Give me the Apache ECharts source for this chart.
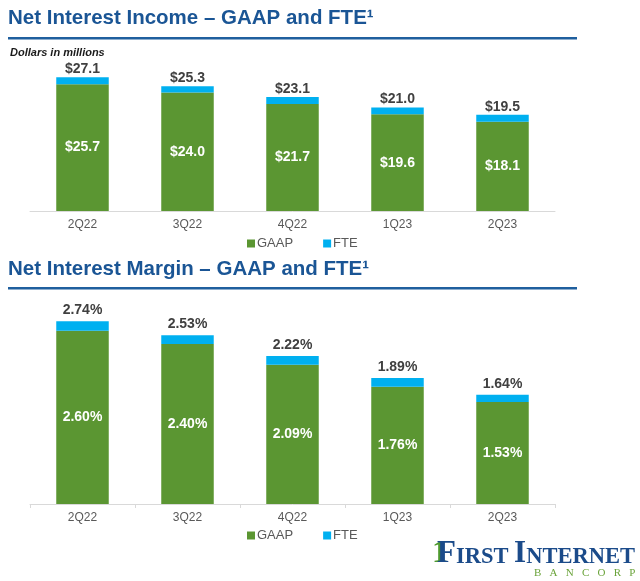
<!DOCTYPE html>
<html>
<head>
<meta charset="utf-8">
<script src="https://cdn.jsdelivr.net/npm/echarts@6/dist/echarts.min.js"></script>
<style>
html,body{margin:0;padding:0;background:#fff;}
#chart{width:640px;height:581px;}
</style>
</head>
<body>
<div id="chart"></div>
<script>
const categories = ['2Q22', '3Q22', '4Q22', '1Q23', '2Q23'];
const incomeGAAP = [25.7, 24.0, 21.7, 19.6, 18.1];
const incomeFTE = [27.1, 25.3, 23.1, 21.0, 19.5];
const marginGAAP = [2.60, 2.40, 2.09, 1.76, 1.53];
const marginFTE = [2.74, 2.53, 2.22, 1.89, 1.64];

const GREEN = '#5b9632';
const BLUE = '#00b0f0';
const TITLE = '#1a5595';
const FONT = '"Liberation Sans", Arial, sans-serif';

const chart = echarts.init(document.getElementById('chart'));

function diff(total, base, d) {
  return total.map((v, i) => +(v - base[i]).toFixed(d));
}

const xAxisBase = {
  type: 'category',
  data: categories,
  axisLine: { lineStyle: { color: '#d9d9d9', width: 1 } },
  axisLabel: { color: '#595959', fontSize: 12, fontFamily: FONT, margin: 8 }
};

const legendBase = {
  left: 242, itemWidth: 8, itemHeight: 8, itemGap: 30, icon: 'rect',
  textStyle: { color: '#595959', fontSize: 13, padding: [0, 0, 0, -3] },
  data: ['GAAP', 'FTE']
};

const option = {
  animation: false,
  textStyle: { fontFamily: FONT },
  grid: [
    { left: 30, right: 85, top: 63, height: 148 },
    { left: 30, right: 85, top: 304, height: 200 }
  ],
  legend: [
    Object.assign({}, legendBase, { top: 232 }),
    Object.assign({}, legendBase, { top: 524 })
  ],
  xAxis: [
    Object.assign({}, xAxisBase, { gridIndex: 0, axisTick: { show: false } }),
    Object.assign({}, xAxisBase, { gridIndex: 1, axisTick: { show: true, length: 4, lineStyle: { color: '#d9d9d9' } } })
  ],
  yAxis: [
    { gridIndex: 0, type: 'value', min: 0, max: 30, show: false, splitLine: { show: false } },
    { gridIndex: 1, type: 'value', min: 0, max: 3, show: false, splitLine: { show: false } }
  ],
  series: [
    {
      name: 'GAAP', type: 'bar', stack: 'a', xAxisIndex: 0, yAxisIndex: 0, barWidth: '50%',
      itemStyle: { color: GREEN }, data: incomeGAAP,
      label: { show: true, position: 'inside', color: '#fff', fontSize: 14, fontWeight: 'bold',
        formatter: p => '$' + p.value.toFixed(1) }
    },
    {
      name: 'FTE', type: 'bar', stack: 'a', xAxisIndex: 0, yAxisIndex: 0, barWidth: '50%',
      itemStyle: { color: BLUE }, data: diff(incomeFTE, incomeGAAP, 1),
      label: { show: true, position: 'top', distance: 1, color: '#404040', fontSize: 14, fontWeight: 'bold',
        formatter: p => '$' + incomeFTE[p.dataIndex].toFixed(1) }
    },
    {
      name: 'GAAP', type: 'bar', stack: 'b', xAxisIndex: 1, yAxisIndex: 1, barWidth: '50%',
      itemStyle: { color: GREEN }, data: marginGAAP,
      label: { show: true, position: 'inside', color: '#fff', fontSize: 14, fontWeight: 'bold',
        formatter: p => p.value.toFixed(2) + '%' }
    },
    {
      name: 'FTE', type: 'bar', stack: 'b', xAxisIndex: 1, yAxisIndex: 1, barWidth: '50%',
      itemStyle: { color: BLUE }, data: diff(marginFTE, marginGAAP, 2),
      label: { show: true, position: 'top', distance: 4, color: '#404040', fontSize: 14, fontWeight: 'bold',
        formatter: p => marginFTE[p.dataIndex].toFixed(2) + '%' }
    }
  ],
  graphic: [
    { type: 'text', left: 8, top: 8, style: { text: 'Net Interest Income – GAAP and FTE¹', fill: TITLE,
      font: 'bold 20.5px ' + FONT } },
    { type: 'rect', shape: { x: 8, y: 37, width: 569, height: 2.5 }, style: { fill: '#1f5f9e' } },
    { type: 'text', left: 10, top: 47, style: { text: 'Dollars in millions', fill: '#1a1a1a',
      font: 'italic bold 11px ' + FONT } },
    { type: 'text', left: 8, top: 259, style: { text: 'Net Interest Margin – GAAP and FTE¹', fill: TITLE,
      font: 'bold 20.5px ' + FONT } },
    { type: 'rect', shape: { x: 8, y: 287, width: 569, height: 2.5 }, style: { fill: '#1f5f9e' } },
    { type: 'text', left: 432, top: 538, style: { text: '1', fill: '#4f9a2e',
      font: 'bold 32px "Liberation Serif", serif' } },
    { type: 'text', left: 437, top: 538, style: {
      text: '{b|F}{s|IRST }{b|I}{s|NTERNET}',
      rich: {
        b: { fill: '#1b4b8a', font: 'bold 31px "Liberation Serif", serif', verticalAlign: 'bottom' },
        s: { fill: '#1b4b8a', font: 'bold 22.5px "Liberation Serif", serif', verticalAlign: 'bottom' }
      } } },
    { type: 'text', left: 534, top: 568, style: { text: 'B   A   N   C   O   R   P', fill: '#6aa33a',
      font: '11px "Liberation Serif", serif' } }
  ]
};
chart.setOption(option);
</script>
</body>
</html>
